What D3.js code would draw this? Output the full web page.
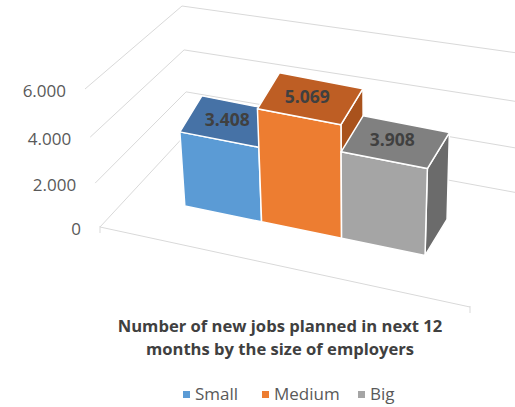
<!DOCTYPE html>
<html>
<head>
<meta charset="utf-8">
<script src="https://cdn.jsdelivr.net/npm/d3@7"></script>
<style>
  body { margin: 0; background: #fff; }
  text { font-family: "Open Sans", "Noto Sans", sans-serif; }
</style>
</head>
<body>
<svg id="chart" width="515" height="407"></svg>
<script>
// ---- data ----
const series = ["Small", "Medium", "Big"];
const values = [3408, 5069, 3908];
const valueTicks = [0, 2000, 4000, 6000];
const tickLabels = ["0", "2.000", "4.000", "6.000"];
const valueLabels = ["3.408", "5.069", "3.908"];
const titleLines = ["Number of new jobs planned in next 12", "months by the size of employers"];

// ---- styles ----
const frontColors = ["#5B9BD5", "#ED7D31", "#A5A5A5"];
const topColors   = ["#4672A6", "#BE5E24", "#808080"];
const sideColors  = ["#3A6291", "#A9521C", "#6B6B6B"];
const gridColor = "#D9D9D9";

const svg = d3.select("#chart");

// ---- 3D frame: screen position of the plot box corners (u: category, v: value, w: depth) ----
const box = {
  flb: [100, 227], flt: [85, 89],
  blb: [188, 132], blt: [182, 6],
  frb: [470, 307], frt: [478, 171],
  brb: [540, 197], brt: [546, 57]
};
const vScale = d3.scaleLinear().domain([0, 6000]).range([0, 1]);
const uPersp = 1.1, vPersp = 1.07;
const warp = (k, p) => k / (p - (p - 1) * k);
const lerp = (a, b, k) => [a[0] + (b[0] - a[0]) * k, a[1] + (b[1] - a[1]) * k];

function project(u, v, w) {
  const s = warp(u, uPersp), t = warp(vScale(v), vPersp);
  const lb = lerp(box.flb, box.blb, w), lt = lerp(box.flt, box.blt, w);
  const rb = lerp(box.frb, box.brb, w), rt = lerp(box.frt, box.brt, w);
  return lerp(lerp(lb, lt, t), lerp(rb, rt, t), s);
}

// ---- gridlines: side wall and back wall ----
const grid = svg.append("g").attr("stroke", gridColor).attr("stroke-width", 1).attr("fill", "none");
valueTicks.forEach(v => {
  grid.append("path").attr("d", d3.line()([project(0, v, 0), project(0, v, 1), project(1, v, 1)]));
});
// floor front edge (category axis) with end ticks
grid.append("path").attr("d", d3.line()([project(0, 0, 0), project(1, 0, 0)]));
[0, 1].forEach(u => {
  const p = project(u, 0, 0);
  grid.append("path").attr("d", d3.line()([[p[0], p[1] - 1], [p[0], p[1] + 6]]));
});

// value axis labels
svg.append("g").selectAll("text").data(valueTicks).join("text")
  .attr("x", v => project(0, v, 0)[0] - 19)
  .attr("y", v => project(0, v, 0)[1] + 1)
  .attr("text-anchor", "end")
  .attr("dominant-baseline", "central")
  .attr("font-size", 17)
  .attr("fill", "#595959")
  .text((v, i) => tickLabels[i]);

// ---- bars ----
const band = d3.scaleBand().domain(series).range([0.1636, 0.8252]).paddingInner(0);
const wFront = 0.34;
const depth = [22, -36];
const add = (p, d) => [p[0] + d[0], p[1] + d[1]];

const bars = svg.append("g").attr("stroke", "#fff").attr("stroke-width", 1.5).attr("stroke-linejoin", "round");
const labelPos = [];
series.forEach((name, i) => {
  const u0 = band(name), u1 = u0 + band.bandwidth(), v = values[i];
  const fbl = project(u0, 0, wFront), fbr = project(u1, 0, wFront);
  const ftl = project(u0, v, wFront), ftr = project(u1, v, wFront);
  const btl = add(ftl, depth), btr = add(ftr, depth), bbr = add(fbr, depth);
  const g = bars.append("g");
  g.append("path").attr("d", d3.line()([fbr, bbr, btr, ftr]) + "Z").attr("fill", sideColors[i]);
  g.append("path").attr("d", d3.line()([fbl, fbr, ftr, ftl]) + "Z").attr("fill", frontColors[i]);
  g.append("path").attr("d", d3.line()([ftl, ftr, btr, btl]) + "Z").attr("fill", topColors[i]);
  const c = [(ftl[0] + ftr[0] + btl[0] + btr[0]) / 4, (ftl[1] + ftr[1] + btl[1] + btr[1]) / 4];
  labelPos.push([c[0] - 3, c[1] - 3]);
});

// data labels on the top faces
svg.append("g").selectAll("text").data(values).join("text")
  .attr("x", (d, i) => labelPos[i][0])
  .attr("y", (d, i) => labelPos[i][1])
  .attr("text-anchor", "middle")
  .attr("dominant-baseline", "central")
  .attr("font-size", 17.5)
  .attr("font-weight", "bold")
  .attr("fill", "#404040")
  .text((d, i) => valueLabels[i]);

// ---- title ----
svg.append("g").selectAll("text").data(titleLines).join("text")
  .attr("x", 280)
  .attr("y", (d, i) => 325 + i * 23)
  .attr("text-anchor", "middle")
  .attr("dominant-baseline", "central")
  .attr("font-size", 16.6)
  .attr("font-weight", "bold")
  .attr("fill", "#404040")
  .text(d => d);

// ---- legend ----
const legendX = [183, 262, 358];
const legend = svg.append("g").selectAll("g").data(series).join("g")
  .attr("transform", (d, i) => `translate(${legendX[i]},393)`);
legend.append("rect").attr("x", 0).attr("y", -2).attr("width", 7).attr("height", 7)
  .attr("fill", (d, i) => frontColors[i]);
legend.append("text").attr("x", 12).attr("y", 0)
  .attr("dominant-baseline", "central")
  .attr("font-size", 17)
  .attr("fill", "#595959")
  .text(d => d);
</script>
</body>
</html>
